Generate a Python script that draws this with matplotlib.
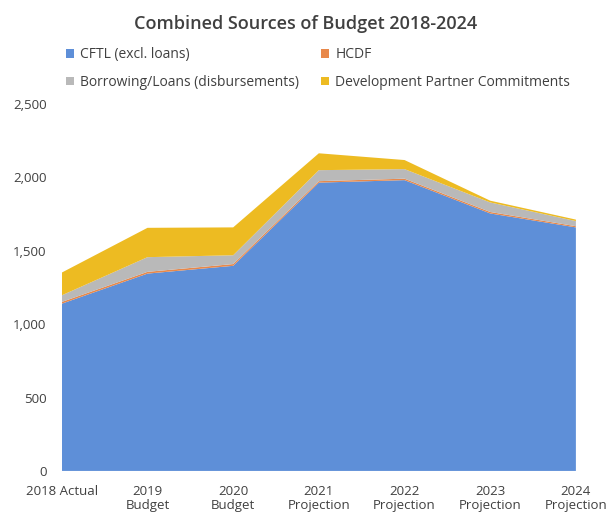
import matplotlib.pyplot as plt

years = ['2018 Actual', '2019\nBudget', '2020\nBudget', '2021\nProjection',
         '2022\nProjection', '2023\nProjection', '2024\nProjection']
cftl = [1140, 1345, 1398, 1965, 1982, 1755, 1660]
hcdf = [12, 12, 12, 10, 10, 10, 8]
borrowing = [45, 100, 60, 75, 65, 65, 35]
dev_partner = [155, 200, 190, 115, 62, 12, 10]

labels = ['CFTL (excl. loans)', 'HCDF', 'Borrowing/Loans (disbursements)',
          'Development Partner Commitments']
colors = ['#5E8FD8', '#E8884A', '#B9B9B9', '#EDBB22']

plt.rcParams['font.family'] = ['Open Sans', 'DejaVu Sans']
text_col = '#404040'

fig = plt.figure(figsize=(6.12, 5.13), dpi=100)
ax = fig.add_axes([0.101, 0.082, 0.840, 0.715])

x = list(range(len(years)))
polys = ax.stackplot(x, cftl, hcdf, borrowing, dev_partner, colors=colors,
                     labels=labels, linewidth=0)

ax.set_xlim(0, len(years) - 1)
ax.set_ylim(0, 2500)
ax.set_yticks([0, 500, 1000, 1500, 2000, 2500])
ax.set_yticklabels([f'{v:,}' for v in [0, 500, 1000, 1500, 2000, 2500]])
ax.set_xticks(x)
ax.set_xticklabels(years, va='top', linespacing=1.15)
for s in ax.spines.values():
    s.set_visible(False)
ax.tick_params(length=0, colors=text_col, labelsize=9.5)
ax.tick_params(axis='y', pad=11)
ax.tick_params(axis='x', pad=10)

fig.text(0.5, 0.954, 'Combined Sources of Budget 2018-2024', ha='center',
         va='center', fontsize=13, color=text_col, fontweight='semibold')

# legend fills column-wise, so reorder to get CFTL/HCDF on the first row
order = [0, 2, 1, 3]
fig.legend([polys[i] for i in order], [labels[i] for i in order],
           loc='center left', bbox_to_anchor=(0.088, 0.866),
           ncol=2, frameon=False, fontsize=10, handlelength=0.55,
           handleheight=0.55, handletextpad=0.45, columnspacing=1.6,
           labelspacing=0.9, labelcolor=text_col)

fig.savefig('out.png', dpi=100)
